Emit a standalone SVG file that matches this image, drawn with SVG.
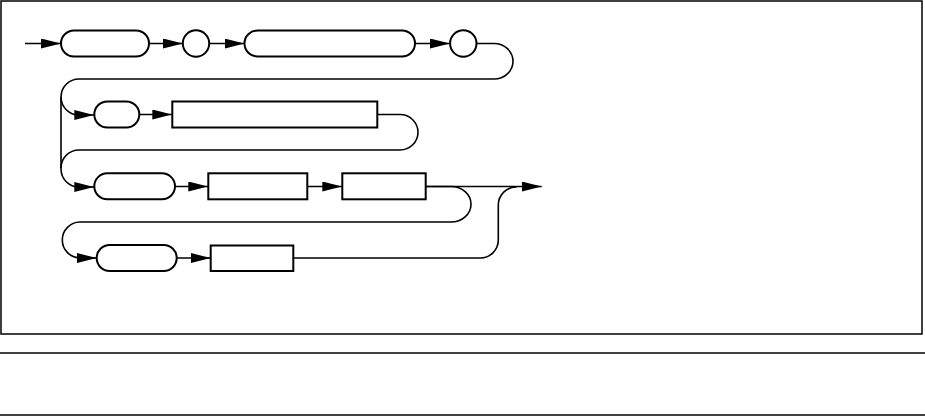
<svg xmlns="http://www.w3.org/2000/svg" width="925" height="416" viewBox="0 0 925 416">
<style>
.ln{fill:none;stroke:#000;stroke-width:1.6}
.bx{fill:#fff;stroke:#000;stroke-width:2}
.fr{fill:none;stroke:#000;stroke-width:1.5}
</style>
<defs>
<marker id="ah" markerUnits="userSpaceOnUse" markerWidth="20" markerHeight="10" refX="20" refY="5" orient="auto">
<path d="M0,0 L20,5 L0,10 z" fill="#000"/>
</marker>
</defs>
<rect x="1" y="1" width="921" height="333" class="fr"/>
<line x1="0" y1="353" x2="925" y2="353" class="fr"/>
<line x1="0" y1="415" x2="925" y2="415" class="fr"/>
<g id="connectors">
<path class="ln" d="M25,43.5 H61" marker-end="url(#ah)"/>
<path class="ln" d="M149,43.5 H183" marker-end="url(#ah)"/>
<path class="ln" d="M209,43.5 H244.5" marker-end="url(#ah)"/>
<path class="ln" d="M415,43.5 H450" marker-end="url(#ah)"/>
<path class="ln" d="M476.5,43.5 H494 A19,17.75 0 0 1 494,79 H79 A18,18 0 0 0 61,97 V169 A18,18 0 0 0 79,187 H94.3" marker-end="url(#ah)"/>
<path class="ln" d="M61,97 A18,18 0 0 0 79,115 H94.3" marker-end="url(#ah)"/>
<path class="ln" d="M139.3,114.5 H172.3" marker-end="url(#ah)"/>
<path class="ln" d="M377.3,114.5 H400 A18,17.75 0 0 1 400,150 H79 A18,18 0 0 0 61,168"/>
<path class="ln" d="M175,186.5 H208.3" marker-end="url(#ah)"/>
<path class="ln" d="M307.3,186.5 H342.3" marker-end="url(#ah)"/>
<path class="ln" d="M425.7,186.5 H541.7" marker-end="url(#ah)"/>
<path class="ln" d="M425.7,186.5 H451 A20,17.75 0 0 1 451,222 H80 A18,18 0 0 0 62.3,240 A18,18 0 0 0 80,258 H96.7" marker-end="url(#ah)"/>
<path class="ln" d="M176.7,258 H210.7" marker-end="url(#ah)"/>
<path class="ln" d="M293.3,258 H480 A18,18 0 0 0 498.3,240 V205 A18,18 0 0 1 516.7,187"/>
</g>
<g id="n1"><rect class="bx" x="61" y="30.5" width="88" height="26" rx="13"/></g>
<g id="n2"><circle class="bx" cx="196" cy="43.5" r="13.2"/></g>
<g id="n3"><rect class="bx" x="244.5" y="30.5" width="170.5" height="26" rx="13"/></g>
<g id="n4"><circle class="bx" cx="463.3" cy="43.5" r="13.2"/></g>
<g id="n5"><rect class="bx" x="94.3" y="101.5" width="45" height="26" rx="13"/></g>
<g id="n6"><rect class="bx" x="172.3" y="101.5" width="205" height="26"/></g>
<g id="n7"><rect class="bx" x="94.3" y="173.3" width="80.7" height="26" rx="13"/></g>
<g id="n8"><rect class="bx" x="208.3" y="173.3" width="99" height="26"/></g>
<g id="n9"><rect class="bx" x="342.3" y="173.3" width="83.4" height="26"/></g>
<g id="n10"><rect class="bx" x="96.7" y="245" width="80" height="26" rx="13"/></g>
<g id="n11"><rect class="bx" x="210.7" y="245.5" width="82.6" height="25.5"/></g>
</svg>
